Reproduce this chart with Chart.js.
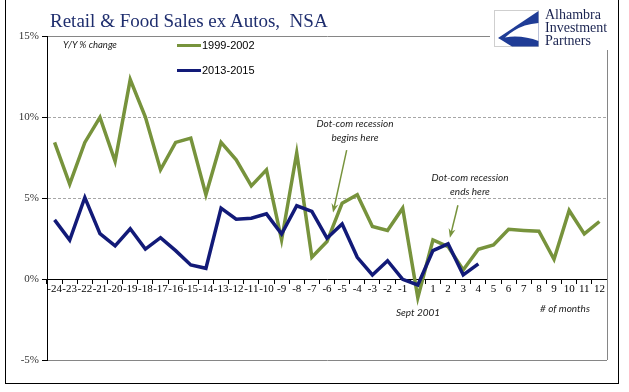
<!DOCTYPE html>
<html>
<head>
<meta charset="utf-8">
<script src="https://cdn.jsdelivr.net/npm/chart.js@4/dist/chart.umd.min.js"></script>
<style>
  html, body { margin: 0; padding: 0; background: #fff; }
  #wrap { position: relative; width: 629px; height: 392px; overflow: hidden; }
  #c { position: absolute; left: 0; top: 0; }
  .txt { position: absolute; white-space: nowrap; line-height: 1; }
  .note { font-family: Lato, "Liberation Sans", sans-serif; font-style: italic; font-size: 10px; color: #1a1a1a; line-height: 14px; text-align: center; transform: translateX(-50%); }
  .leg { position: absolute; font-family: "Liberation Sans", Arial, sans-serif; font-size: 11px; color: #000; line-height: 12px; }
  .leg i { display: inline-block; width: 24px; height: 3px; vertical-align: middle; margin-right: 1px; margin-top: -2px; }
</style>
</head>
<body>
<div id="wrap">
  <canvas id="c" width="629" height="392"></canvas>
  <div style="position:absolute;left:5px;top:0;width:612px;height:383px;border:1px solid #000;border-top:none;"></div>
  <div class="txt" style="left:50px;top:11px;font-family:'Liberation Serif',serif;font-size:19px;color:#1F2E6E;">Retail &amp; Food Sales ex Autos,&nbsp; NSA</div>
  <div class="txt" style="left:63px;top:40px;font-family:Lato,sans-serif;font-style:italic;font-size:9.5px;color:#1a1a1a;">Y/Y % change</div>
  <div id="legend"></div>
  <div style="position:absolute;left:490px;top:4px;width:126px;height:46px;background:#fff;">
    <svg width="46" height="38" style="position:absolute;left:4px;top:6px;">
      <rect x="0.5" y="0.5" width="44" height="36" fill="#fff" stroke="#cfcfcf"/>
      <path d="M44.5,1 L44.5,36.5 L18,36.5 C12,33 8,30 4,28 Z" fill="#1F3C96"/>
      <path d="M11,27.5 C20,19 31,14 44.5,13 L44.5,31 C34,27 22,25.5 11,27.5 Z" fill="#fff"/>
    </svg>
    <div class="txt" style="left:55px;top:4px;font-family:'Liberation Serif',serif;font-size:14px;line-height:13px;color:#1a2350;">Alhambra<br>Investment<br>Partners</div>
  </div>
  <div class="txt note" style="left:355px;top:116px;">Dot-com recession<br>begins here</div>
  <div class="txt note" style="left:470px;top:170px;">Dot-com recession<br>ends here</div>
  <div class="txt note" style="left:418px;top:305px;">Sept 2001</div>
  <div class="txt note" style="left:565px;top:301px;">#&nbsp;of months</div>
</div>
<script>
const months = ['-24', '-23', '-22', '-21', '-20', '-19', '-18', '-17', '-16', '-15', '-14', '-13',
    '-12', '-11', '-10', '-9', '-8', '-7', '-6', '-5', '-4', '-3', '-2', '-1',
    '0', '1', '2', '3', '4', '5', '6', '7', '8', '9', '10', '11', '12'];

// Y/Y % change, 1999-2002 run
const sales1999 = [8.43, 5.86, 8.43, 9.98, 7.26, 12.31, 10.0, 6.74, 8.43, 8.7, 5.2, 8.43,
    7.36, 5.75, 6.74, 2.41, 7.78, 1.34, 2.31, 4.68, 5.2, 3.24, 2.99, 4.37,
    -1.15, 2.41, 2.0, 0.56, 1.84, 2.1, 3.07, 3.0, 2.95, 1.22, 4.23, 2.78, 3.55];

// Y/Y % change, 2013-2015 run (ends at month 4)
const sales2013 = [3.65, 2.4, 5.03, 2.8, 2.05, 3.1, 1.85, 2.55, 1.75, 0.87, 0.66, 4.37,
    3.69, 3.75, 4.02, 2.78, 4.52, 4.17, 2.52, 3.4, 1.34, 0.25, 1.13, -0.02,
    -0.37, 1.75, 2.17, 0.25, 0.93];

const yTicks = [-5, 0, 5, 10, 15];

const seriesNames = ['1999-2002', '2013-2015'];
const seriesColors = ['#77933C', '#121A78'];

// arrows: [month from, % from, month to, % to]
const arrows = [
    [-4.7, 7.95, -5.6, 4.1],
    [2.65, 4.55, 2.12, 2.55]
];

const monthIndex = m => m + 24;

const frame = {
    id: 'frame',
    afterDraw(chart) {
        const { ctx, chartArea, scales } = chart;
        ctx.save();
        ctx.strokeStyle = '#868686';
        ctx.lineWidth = 1;
        ctx.beginPath();
        ctx.moveTo(Math.round(chartArea.right) + 0.5, chartArea.top);
        ctx.lineTo(Math.round(chartArea.right) + 0.5, chartArea.bottom);
        ctx.stroke();

        ctx.strokeStyle = '#77933C';
        ctx.fillStyle = '#77933C';
        ctx.lineWidth = 1.5;
        arrows.forEach(a => {
            const x1 = scales.x.getPixelForValue(monthIndex(a[0]));
            const y1 = scales.y.getPixelForValue(a[1]);
            const x2 = scales.x.getPixelForValue(monthIndex(a[2]));
            const y2 = scales.y.getPixelForValue(a[3]);
            const ang = Math.atan2(y2 - y1, x2 - x1);
            ctx.beginPath();
            ctx.moveTo(x1, y1);
            ctx.lineTo(x2 - 4 * Math.cos(ang), y2 - 4 * Math.sin(ang));
            ctx.stroke();
            ctx.beginPath();
            ctx.moveTo(x2, y2);
            ctx.lineTo(x2 - 9 * Math.cos(ang) + 3.5 * Math.sin(ang), y2 - 9 * Math.sin(ang) - 3.5 * Math.cos(ang));
            ctx.lineTo(x2 - 6 * Math.cos(ang), y2 - 6 * Math.sin(ang));
            ctx.lineTo(x2 - 9 * Math.cos(ang) - 3.5 * Math.sin(ang), y2 - 9 * Math.sin(ang) + 3.5 * Math.cos(ang));
            ctx.closePath();
            ctx.fill();
        });
        ctx.restore();
    }
};

const chart = new Chart(document.getElementById('c'), {
    type: 'line',
    data: {
        labels: months,
        datasets: [
            {
                label: seriesNames[0],
                data: sales1999,
                borderColor: seriesColors[0],
                borderWidth: 3.5,
                order: 1
            },
            {
                label: seriesNames[1],
                data: sales2013,
                borderColor: seriesColors[1],
                borderWidth: 3.5,
                order: 0
            }
        ]
    },
    options: {
        responsive: false,
        animation: false,
        devicePixelRatio: 1,
        layout: { padding: { left: 0, top: 36, right: 22, bottom: 32 } },
        elements: {
            line: { tension: 0, borderJoinStyle: 'miter', borderCapStyle: 'butt' },
            point: { radius: 0, hoverRadius: 0 }
        },
        plugins: {
            legend: { display: false },
            tooltip: { enabled: false },
            title: { display: false }
        },
        scales: {
            x: {
                type: 'category',
                position: { y: 0 },
                offset: true,
                grid: {
                    offset: true,
                    drawOnChartArea: false,
                    drawTicks: true,
                    tickLength: 4,
                    color: '#000',
                    tickColor: '#000'
                },
                border: { color: '#000', width: 1 },
                ticks: {
                    autoSkip: false,
                    maxRotation: 0,
                    minRotation: 0,
                    padding: 0,
                    color: '#000',
                    font: { family: 'Liberation Serif', size: 11 }
                }
            },
            y: {
                min: -5,
                max: 15,
                afterBuildTicks: scale => { scale.ticks = yTicks.map(v => ({ value: v })); },
                afterFit: scale => { scale.width = 47; },
                grid: {
                    drawTicks: true,
                    tickLength: 5,
                    tickColor: '#000',
                    color: c => {
                        if (!c.tick) return 'rgba(0,0,0,0)';
                        const v = c.tick.value;
                        if (v === 5 || v === 10) return '#A6A6A6';
                        if (v === 15 || v === -5) return '#868686';
                        return 'rgba(0,0,0,0)';
                    }
                },
                border: {
                    color: '#000',
                    width: 1,
                    dash: c => (c.tick && (c.tick.value === 5 || c.tick.value === 10)) ? [3, 2] : []
                },
                ticks: {
                    padding: 3,
                    color: '#333',
                    font: { family: 'Liberation Serif', size: 11 },
                    callback: v => v + '%'
                }
            }
        }
    },
    plugins: [frame]
});

// legend rows from the datasets
const legendTops = [39, 64];
document.getElementById('legend').innerHTML = chart.data.datasets.map((ds, i) =>
    '<div class="leg" style="left:177px;top:' + legendTops[i] + 'px;"><i style="background:' +
    ds.borderColor + '"></i>' + ds.label + '</div>').join('');
</script>
</body>
</html>
